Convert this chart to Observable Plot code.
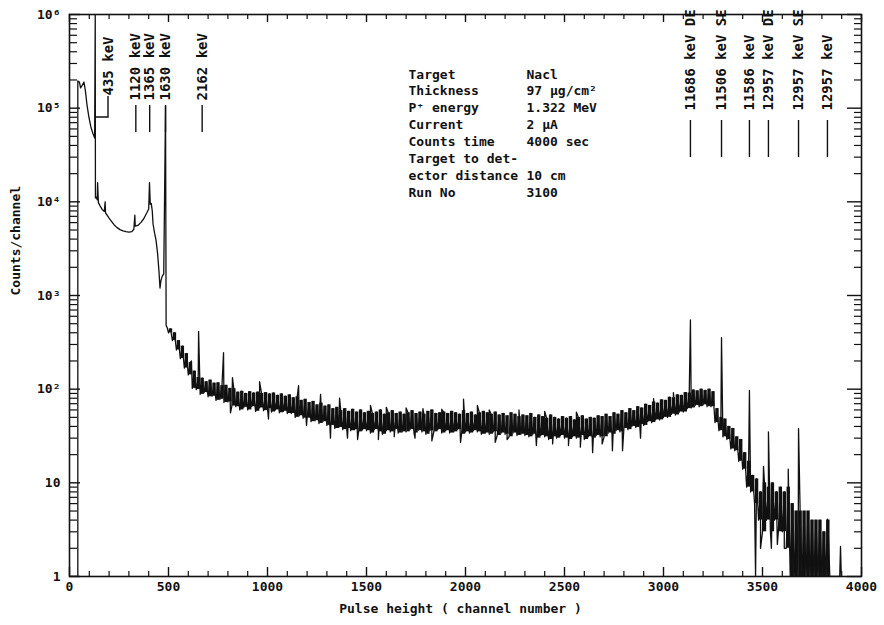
<!DOCTYPE html>
<html><head><meta charset="utf-8">
<script src="https://cdn.jsdelivr.net/npm/d3@7"></script>
<script src="https://cdn.jsdelivr.net/npm/@observablehq/plot@0.6"></script>
<style>body{margin:0;background:#fff}</style>
</head><body><div id="chart"></div>
<script>
// ---------- data ----------
// low-channel part of the spectrum (channel, counts/channel)
const lowCh = [0,42,42,50,56,64,73,80,88,98,108,118,127,130,131,136,140,142,146,155,165,176,180,182,190,200,212,225,240,255,270,285,300,315,325,330,332,345,360,375,390,400,404,408,413,418,422,430,437,445,452,457,462,468,476,485,488,494];
const lowCounts = [1,1,195000,190000,165000,175000,190000,155000,110000,80000,63000,54000,48000,1000000,11000,11200,10500,16000,9800,9000,8300,7900,10000,7600,7200,6700,6200,5700,5300,5050,4900,4800,4750,4800,5100,7200,5500,5600,6000,6600,7600,8400,16000,9400,9600,8000,5800,4600,3900,2800,1800,1200,1450,1600,1700,105000,480,450];

// continuum band: 20-channel bins from channel 500, low and high edge of the noisy trace
const bandStart = 500, bandStep = 20;
const bandLo = [
 400,330,262,212,168,142,102,99,88,92,
 83,84,76,78,72,73,66,65,60,64,
 60,65,58,63,59,62,57,60,56,58,
 55,55,50,52,49,49,45,46,43,45,
 41,41,38,39,37,38,36,37,35,37,
 36,34,37,35,33,36,35,37,34,35,
 35,37,34,36,35,33,36,35,37,34,
 36,34,35,37,33,35,34,36,35,33,
 34,33,35,32,34,33,31,34,32,33,
 32,31,33,30,32,31,29,31,30,32,
 30,29,31,30,32,29,31,30,32,31,
 31,34,33,36,35,38,37,40,39,42,
 41,45,44,47,47,50,50,54,53,57,
 57,62,63,67,65,68,65,65,44,36,
 31,29,23,22,17,14,9,8,6,4,
 3,4,3,4,3,3,2,1,1,1,
 1,1,1,1,1,1,1,1,1,1];
const bandHi = [
 440,400,330,288,240,192,156,133,131,120,
 125,116,117,109,110,102,101,93,95,90,
 94,91,93,90,92,89,91,86,89,84,
 87,81,83,76,78,72,74,68,71,66,
 68,62,64,59,62,58,61,57,60,56,
 58,55,57,60,54,56,59,55,57,54,
 56,59,55,57,54,58,60,55,56,57,
 55,58,56,54,59,55,57,53,56,58,
 56,54,57,53,55,52,56,54,51,53,
 52,55,50,53,51,49,53,50,48,51,
 49,51,47,50,52,48,50,49,52,51,
 54,51,56,54,59,56,62,59,65,63,
 69,67,73,71,77,76,82,81,87,86,
 92,91,98,96,100,97,100,94,62,50,
 48,40,38,31,29,21,17,12,11,8,
 10,9,10,8,9,8,9,6,5,5,
 5,5,4,4,4,3,4,1,1,1];

// narrow peaks and dips standing out of the band
const peakCh = [616,652,778,823,960,1157,1268,1364,1520,1600,1700,1785,1880,1990,2060,2120,2270,2400,2560,2870,2950,3050,3136,3293,3434,3505,3530,3630,3682,3828,3894];
const peakCounts = [200,415,245,133,120,109,88,80,67,64,63,62,61,78,67,60,60,58,57,63,79,92,550,355,97,15,35,14,38,4.1,2.1];
const dipCh = [813,1005,1197,1318,1404,1455,1560,1640,1745,1830,1975,2150,2210,2358,2440,2520,2580,2642,2690,2742,2793,2884,3465,3490,3545,3575,3610,3898];
const dipCounts = [56,48,41,30,30,29,29,31,30,28,27,27,29,25,26,25,24,21,26,22,22,30,1,2,2,2.2,2,1];

// peak annotations
const labelCh = [197,335,405,485,670,3136,3293,3434,3530,3682,3828];
const labelText = ["435 keV","1120 keV","1365 keV","1630 keV","2162 keV","11686 keV DE","11506 keV SE","11586 keV","12957 keV DE","12957 keV SE","12957 keV"];
const spike435Ch = 130;

// info block
const infoKeys = ["Target","Thickness","P\u207A energy","Current","Counts time","Target to det-","ector distance","Run No"];
const infoValues = ["Nacl","97 \u00B5g/cm\u00B2","1.322 MeV","2 \u00B5A","4000 sec","","10 cm","3100"];

// axes
const xTickLabels = [0,500,1000,1500,2000,2500,3000,3500,4000];
const yTickValues = [1,10,100,1e3,1e4,1e5,1e6];
const yTickText = ["1","10","10\u00B2","10\u00B3","10\u2074","10\u2075","10\u2076"];

// ---------- build ----------
const W = 884, H = 625, mL = 69, mR = 23, mT = 14, mB = 49;
const PW = W - mL - mR, PH = H - mT - mB;

const head = lowCh.map((c, i) => ({ch: c, n: lowCounts[i]}));
const rest = [];
const bands = [];
bandLo.forEach((v, i) => {
  const c = bandStart + i * bandStep;
  rest.push({ch: c, n: v});
  rest.push({ch: c + bandStep / 2, n: bandHi[i]});
  bands.push({ch: c + bandStep / 2, lo: v, hi: bandHi[i]});
});
peakCh.forEach((c, i) => rest.push({ch: c, n: peakCounts[i]}));
dipCh.forEach((c, i) => rest.push({ch: c, n: dipCounts[i]}));
rest.sort((a, b) => a.ch - b.ch);
const spectrum = head.concat(rest);

const labels = labelCh.map((c, i) => ({ch: c, text: labelText[i]}));
const xMinor = d3.range(0, 4001, 100).filter(d => d % 500 !== 0);
const xMajor = xTickLabels;
const yMinor = [];
[1, 10, 100, 1e3, 1e4, 1e5].forEach(dec => { for (let k = 2; k <= 9; k++) yMinor.push(dec * k); });

const ink = "#111";
const connector = (index, scales) => {
  const x = scales.x;
  const p = d3.create("svg:path")
    .attr("d", `M${x(spike435Ch)},${mT + 103}H${x(labelCh[0])}V${mT + 82}`)
    .attr("fill", "none").attr("stroke", ink).attr("stroke-width", 1.4);
  return p.node();
};

const chart = Plot.plot({
  width: W, height: H,
  marginLeft: mL, marginRight: mR, marginTop: mT, marginBottom: mB,
  style: {fontFamily: "'DejaVu Sans Mono', monospace", fontWeight: "bold", fontSize: "13px", color: ink, background: "#fff"},
  x: {domain: [0, 4000]},
  y: {type: "log", domain: [1, 1e6]},
  marks: [
    // ticks
    Plot.ruleX(xMinor, {insetTop: PH - 5, stroke: ink, strokeWidth: 1.2}),
    Plot.ruleX(xMajor, {insetTop: PH - 9, stroke: ink, strokeWidth: 1.4}),
    Plot.ruleX(xMinor, {insetBottom: PH - 5, stroke: ink, strokeWidth: 1.2}),
    Plot.ruleX(xMajor, {insetBottom: PH - 8, stroke: ink, strokeWidth: 1.4}),
    Plot.ruleY(yMinor, {insetRight: PW - 8, stroke: ink, strokeWidth: 1.2}),
    Plot.ruleY(yTickValues, {insetRight: PW - 11, stroke: ink, strokeWidth: 1.4}),
    Plot.ruleY(yMinor, {insetLeft: PW - 7, stroke: ink, strokeWidth: 1.2}),
    Plot.ruleY(yTickValues, {insetLeft: PW - 14, stroke: ink, strokeWidth: 1.4}),
    // spectrum: dense noise band + trace
    Plot.ruleX(bands, {x: "ch", y1: "lo", y2: "hi", stroke: ink, strokeWidth: 3.4}),
    Plot.line(spectrum, {x: "ch", y: "n", stroke: ink, strokeWidth: 1.3, clip: true}),
    Plot.frame({stroke: ink, strokeWidth: 1.6}),
    // axes labels
    Plot.axisX(xTickLabels, {anchor: "bottom", tickSize: 0, tickPadding: 5, label: null, tickFormat: d => String(d), fontSize: 13}),
    Plot.axisY(yTickValues, {anchor: "left", tickSize: 0, tickPadding: 9, label: null, tickFormat: d => yTickText[yTickValues.indexOf(d)], fontSize: 13}),
    Plot.text(["Pulse height ( channel number )"], {frameAnchor: "bottom", dx: -5, dy: 36, fontSize: 13}),
    Plot.text(["Counts/channel"], {frameAnchor: "left", dx: -54, rotate: -90, fontSize: 13}),
    // peak labels
    Plot.text(labels.slice(0, 1), {x: "ch", text: "text", frameAnchor: "top", dy: 81, rotate: -90, textAnchor: "start", lineAnchor: "middle", fontSize: 14}),
    Plot.text(labels.slice(1, 5), {x: "ch", text: "text", frameAnchor: "top", dy: 86, rotate: -90, textAnchor: "start", lineAnchor: "middle", fontSize: 14}),
    Plot.text(labels.slice(5), {x: "ch", text: "text", frameAnchor: "top", dy: 96, rotate: -90, textAnchor: "start", lineAnchor: "middle", fontSize: 14}),
    Plot.ruleX(labels.slice(1, 5), {x: "ch", insetTop: 91, insetBottom: PH - 118, stroke: ink, strokeWidth: 1.4}),
    Plot.ruleX(labels.slice(5), {x: "ch", insetTop: 106, insetBottom: PH - 143, stroke: ink, strokeWidth: 1.4}),
    connector,
    // info block
    Plot.text([infoKeys.join("\n")], {frameAnchor: "top-left", dx: 339, dy: 52, textAnchor: "start", lineAnchor: "top", lineHeight: 1.3, fontSize: 13}),
    Plot.text([infoValues.join("\n")], {frameAnchor: "top-left", dx: 457, dy: 52, textAnchor: "start", lineAnchor: "top", lineHeight: 1.3, fontSize: 13})
  ]
});
document.getElementById("chart").append(chart);
</script></body></html>
